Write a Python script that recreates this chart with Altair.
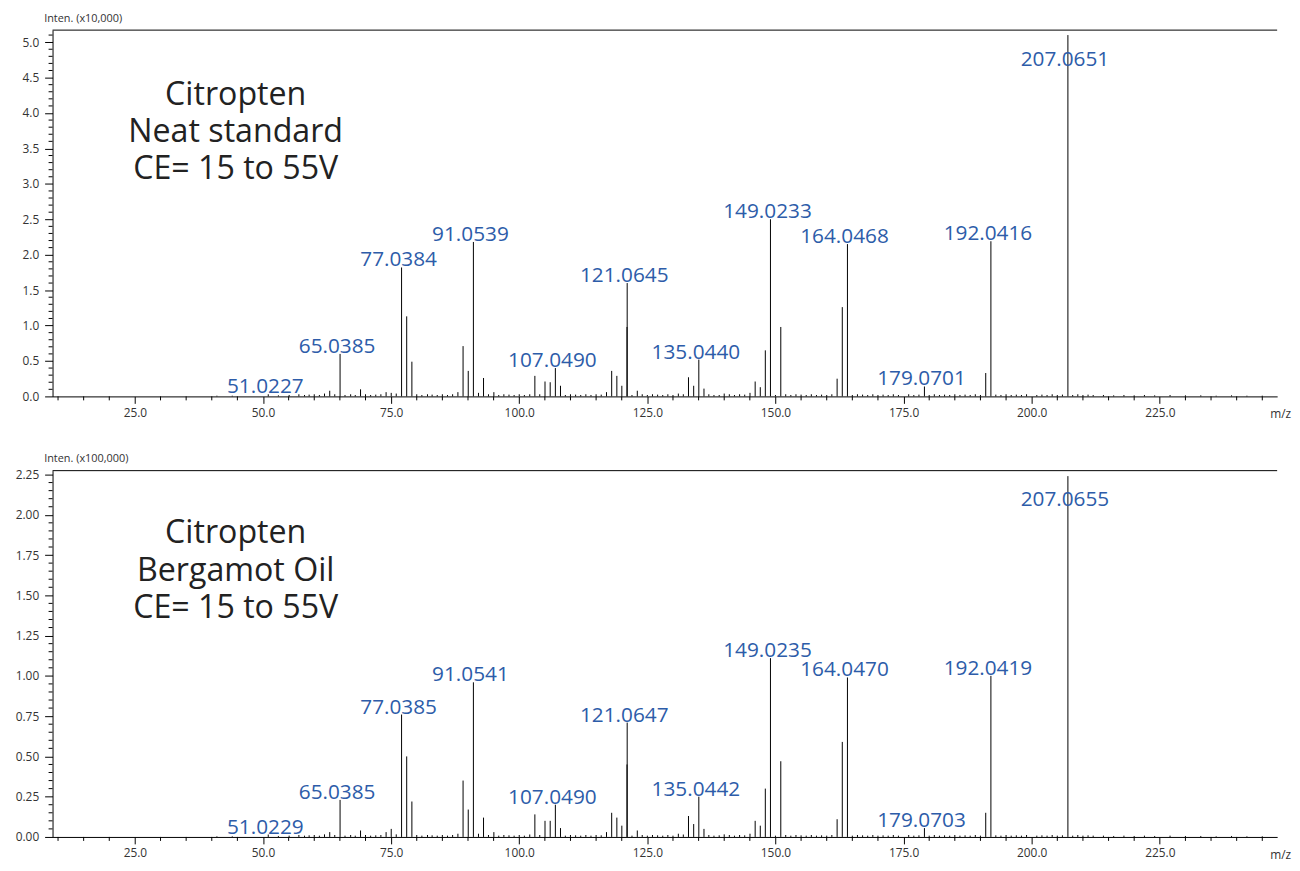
import altair as alt
import pandas as pd

# ---------------- data ----------------
X_DOMAIN = [8.93, 247.9]
X_MAJOR = [25, 50, 75, 100, 125, 150, 175, 200, 225]
X_MINOR = [10, 15, 20, 30, 35, 40, 45, 55, 60, 65, 70, 80, 85, 90, 95, 105, 110, 115, 120,
           130, 135, 140, 145, 155, 160, 165, 170, 180, 185, 190, 195, 205, 210, 215, 220,
           230, 235, 240, 245]

# Neat standard  (Inten. x10,000)
top_mz = [51.0227, 63.02, 65.0385, 69.03, 74.02, 75.02, 77.0384, 78.04, 79.05, 88.03, 89.04,
          90.05, 91.0539, 92.05, 93.03, 95.05, 102.05, 103.05, 105.03, 106.04, 107.0490,
          108.05, 117.03, 118.04, 119.05, 120.02, 121.0284, 121.0645, 123.04, 131.05, 132.02,
          133.03, 134.04, 135.0440, 136.05, 139.02, 145.03, 146.04, 147.04, 148.02, 149.0233,
          151.04, 162.03, 163.04, 164.0468, 179.0701, 191.03, 192.0416, 207.0651]
top_int = [0.03, 0.08, 0.60, 0.10, 0.06, 0.05, 1.82, 1.13, 0.49, 0.06, 0.71,
           0.36, 2.18, 0.05, 0.26, 0.06, 0.03, 0.29, 0.21, 0.20, 0.40,
           0.15, 0.06, 0.36, 0.29, 0.15, 0.98, 1.60, 0.08, 0.04, 0.03,
           0.27, 0.15, 0.52, 0.11, 0.02, 0.05, 0.21, 0.13, 0.65, 2.50,
           0.98, 0.25, 1.26, 2.15, 0.14, 0.33, 2.19, 5.10]
top_lab_mz = [51.0227, 65.0385, 77.0384, 91.0539, 107.0490, 121.0645, 135.0440, 149.0233,
              164.0468, 179.0701, 192.0416, 207.0651]
top_lab_txt = ["51.0227", "65.0385", "77.0384", "91.0539", "107.0490", "121.0645", "135.0440",
               "149.0233", "164.0468", "179.0701", "192.0416", "207.0651"]

# Bergamot oil  (Inten. x100,000)
bot_mz = [51.0229, 63.02, 65.0385, 69.03, 74.02, 75.02, 77.0385, 78.04, 79.05, 88.03, 89.04,
          90.05, 91.0541, 92.05, 93.03, 95.05, 102.05, 103.05, 105.03, 106.04, 107.0490,
          108.05, 117.03, 118.04, 119.05, 120.02, 121.0286, 121.0647, 123.04, 131.05, 132.02,
          133.03, 134.04, 135.0442, 136.05, 139.02, 145.03, 146.04, 147.04, 148.02, 149.0235,
          151.04, 162.03, 163.04, 164.0470, 179.0703, 191.03, 192.0419, 207.0655]
bot_int = [0.015, 0.03, 0.23, 0.04, 0.03, 0.05, 0.76, 0.50, 0.22, 0.02, 0.35,
           0.17, 0.96, 0.02, 0.12, 0.03, 0.015, 0.14, 0.10, 0.10, 0.20,
           0.055, 0.03, 0.15, 0.12, 0.07, 0.45, 0.71, 0.04, 0.02, 0.015,
           0.13, 0.08, 0.25, 0.05, 0.01, 0.02, 0.10, 0.07, 0.30, 1.11,
           0.47, 0.11, 0.59, 0.99, 0.055, 0.15, 1.00, 2.24]
bot_lab_mz = [51.0229, 65.0385, 77.0385, 91.0541, 107.0490, 121.0647, 135.0442, 149.0235,
              164.0470, 179.0703, 192.0419, 207.0655]
bot_lab_txt = ["51.0229", "65.0385", "77.0385", "91.0541", "107.0490", "121.0647", "135.0442",
               "149.0235", "164.0470", "179.0703", "192.0419", "207.0655"]

# low-level baseline noise peaks
noise_mz = [41.0, 44.0, 53.0, 55.1, 57.0, 58.1, 59.0, 60.0, 61.0, 62.0, 64.0, 66.0, 67.1, 68.0,
            70.0, 71.0, 72.0, 73.0, 76.0, 80.0, 81.0, 82.1, 83.0, 84.0, 85.0, 86.0, 87.0, 94.0,
            96.0, 97.0, 98.0, 99.0, 100.0, 101.0, 104.0, 109.0, 110.0, 111.0, 112.0, 113.0,
            114.0, 115.0, 116.0, 122.0, 124.0, 125.0, 126.0, 127.0, 128.0, 129.0, 130.0, 137.0,
            138.0, 140.0, 141.0, 142.0, 143.0, 144.0, 150.0, 152.0, 153.0, 154.0, 155.0, 156.0,
            157.0, 158.0, 159.0, 160.0, 161.0, 165.0, 166.0, 167.0, 168.0, 169.0, 170.0, 171.0,
            172.0, 173.0, 174.0, 176.0, 177.0, 178.0, 180.0, 181.0, 182.0, 183.0, 184.0, 185.0,
            186.0, 187.0, 188.0, 189.0, 190.0, 193.0, 194.0, 195.0, 196.0, 197.0, 198.0, 199.0,
            201.0, 202.0, 203.0, 204.0, 205.0, 206.0, 208.0, 209.0, 210.0, 211.0, 212.0, 214.0,
            216.0, 218.0, 220.0, 222.0, 224.0, 227.0, 230.0, 233.0, 236.0, 239.0, 242.0, 245.0]
noise_top = [0.01, 0.01, 0.015, 0.02, 0.03, 0.02, 0.025, 0.03, 0.02, 0.04, 0.03, 0.02, 0.03, 0.02,
             0.03, 0.02, 0.025, 0.03, 0.04, 0.03, 0.02, 0.03, 0.025, 0.02, 0.03, 0.02, 0.03, 0.03,
             0.02, 0.03, 0.025, 0.02, 0.03, 0.02, 0.03, 0.02, 0.03, 0.025, 0.02, 0.03, 0.02,
             0.03, 0.025, 0.02, 0.03, 0.02, 0.03, 0.025, 0.02, 0.03, 0.02, 0.03, 0.02, 0.04,
             0.03, 0.02, 0.03, 0.025, 0.02, 0.03, 0.02, 0.03, 0.025, 0.02, 0.03, 0.02, 0.025,
             0.02, 0.03, 0.02, 0.03, 0.025, 0.02, 0.03, 0.02, 0.025, 0.02, 0.03, 0.02, 0.03,
             0.02, 0.025, 0.02, 0.03, 0.02, 0.025, 0.02, 0.03, 0.02, 0.025, 0.02, 0.03, 0.02,
             0.025, 0.02, 0.03, 0.02, 0.025, 0.02, 0.03, 0.02, 0.025, 0.02, 0.03, 0.02, 0.025,
             0.02, 0.03, 0.02, 0.025, 0.02, 0.02, 0.015, 0.02, 0.015, 0.02, 0.015, 0.02, 0.015,
             0.015, 0.01, 0.015, 0.01, 0.01]
noise_bot = [0.004, 0.004, 0.006, 0.008, 0.012, 0.008, 0.01, 0.012, 0.008, 0.016, 0.012, 0.008,
             0.012, 0.008, 0.012, 0.008, 0.01, 0.012, 0.016, 0.012, 0.008, 0.012, 0.01, 0.008,
             0.012, 0.008, 0.012, 0.012, 0.008, 0.012, 0.01, 0.008, 0.012, 0.008, 0.012, 0.008,
             0.012, 0.01, 0.008, 0.012, 0.008, 0.012, 0.01, 0.008, 0.012, 0.008, 0.012, 0.01,
             0.008, 0.012, 0.008, 0.012, 0.008, 0.016, 0.012, 0.008, 0.012, 0.01, 0.008, 0.012,
             0.008, 0.012, 0.01, 0.008, 0.012, 0.008, 0.01, 0.008, 0.012, 0.008, 0.012, 0.01,
             0.008, 0.012, 0.008, 0.01, 0.008, 0.012, 0.008, 0.012, 0.008, 0.01, 0.008, 0.012,
             0.008, 0.01, 0.008, 0.012, 0.008, 0.01, 0.008, 0.012, 0.008, 0.01, 0.008, 0.012,
             0.008, 0.01, 0.008, 0.012, 0.008, 0.01, 0.008, 0.012, 0.008, 0.01, 0.008, 0.012,
             0.008, 0.01, 0.008, 0.008, 0.006, 0.008, 0.006, 0.008, 0.006, 0.008, 0.006, 0.006,
             0.004, 0.006, 0.004, 0.004]

TOP_Y_MAJOR = [0.0, 0.5, 1.0, 1.5, 2.0, 2.5, 3.0, 3.5, 4.0, 4.5, 5.0]
TOP_Y_MINOR = [0.1, 0.2, 0.3, 0.4, 0.6, 0.7, 0.8, 0.9, 1.1, 1.2, 1.3, 1.4, 1.6, 1.7, 1.8, 1.9,
               2.1, 2.2, 2.3, 2.4, 2.6, 2.7, 2.8, 2.9, 3.1, 3.2, 3.3, 3.4, 3.6, 3.7, 3.8, 3.9,
               4.1, 4.2, 4.3, 4.4, 4.6, 4.7, 4.8, 4.9, 5.1]
BOT_Y_MAJOR = [0.0, 0.25, 0.5, 0.75, 1.0, 1.25, 1.5, 1.75, 2.0, 2.25]
BOT_Y_MINOR = [0.05, 0.1, 0.15, 0.2, 0.3, 0.35, 0.4, 0.45, 0.55, 0.6, 0.65, 0.7, 0.8, 0.85,
               0.9, 0.95, 1.05, 1.1, 1.15, 1.2, 1.3, 1.35, 1.4, 1.45, 1.55, 1.6, 1.65, 1.7,
               1.8, 1.85, 1.9, 1.95, 2.05, 2.1, 2.15, 2.2]

# ---------------- styling ----------------
W = 1237
H = 370
FONT = "Open Sans"
BLUE = "#2d5ca9"
TXT = "#333333"


def panel(mz, inten, n_int, lab_mz, lab_txt, ymax, y_major, y_minor, yfmt, ytitle,
          note, note_y, note_lh):
    lookup = dict(zip(mz, inten))
    peaks = pd.DataFrame({"mz": mz + noise_mz, "inten": inten + n_int})
    labels = pd.DataFrame({
        "mz": lab_mz,
        "txt": lab_txt,
        "inten": [min(lookup[m], 0.9 * ymax) for m in lab_mz],
    })
    xs = alt.Scale(domain=X_DOMAIN, nice=False, zero=False)
    ys = alt.Scale(domain=[0, ymax], nice=False, zero=False)

    x_axis = alt.Axis(values=X_MAJOR, format=".1f", tickSize=7, labelPadding=4,
                      grid=False, title=None, labelFont=FONT, labelFontSize=12,
                      labelColor=TXT, domainColor="black", tickColor="black",
                      labelOverlap=False)
    y_axis = alt.Axis(values=y_major, format=yfmt, tickSize=8, labelPadding=6,
                      grid=False, title=ytitle, titleAngle=0, titleAlign="left",
                      titleBaseline="middle", titleX=-9, titleY=-12, titleFont=FONT,
                      titleFontSize=11, titleFontWeight="normal", titleColor=TXT,
                      labelFont=FONT, labelFontSize=12, labelColor=TXT,
                      domainColor="black", tickColor="black", labelOverlap=False,
                      minExtent=45, maxExtent=45)
    X = lambda: alt.X("mz:Q", scale=xs, axis=x_axis)
    Y = lambda: alt.Y("inten:Q", scale=ys, axis=y_axis)

    sticks = alt.Chart(peaks).mark_rule(color="black", strokeWidth=1).encode(
        x=X(), y=Y(), y2=alt.Y2(datum=0),
    )
    text = alt.Chart(labels).mark_text(
        font=FONT, fontSize=21, color=BLUE, align="center", baseline="alphabetic", dx=-3, dy=-1
    ).encode(x=X(), y=Y(), text="txt:N")
    yminor = alt.Chart(pd.DataFrame({"inten": y_minor})).mark_rule(
        color="black", strokeWidth=1
    ).encode(y=Y(), x=alt.value(-4), x2=alt.value(0))
    xminor = alt.Chart(pd.DataFrame({"mz": X_MINOR})).mark_rule(
        color="black", strokeWidth=1
    ).encode(x=X(), y=alt.value(H), y2=alt.value(H + 4))
    frame_top = alt.Chart(alt.Data(values=[{}])).mark_rule(color="black", strokeWidth=1).encode(
        y=alt.value(0),
    )
    mz_lbl = alt.Chart(alt.Data(values=[{}])).mark_text(
        font=FONT, fontSize=12, color=TXT, align="left", baseline="middle"
    ).encode(x=alt.value(W - 7), y=alt.value(H + 18), text=alt.value("m/z"))
    note_mark = alt.Chart(alt.Data(values=[{}])).mark_text(
        font=FONT, fontSize=32.5, color="#222222", align="center", baseline="middle",
        lineBreak="\n", lineHeight=note_lh
    ).encode(x=alt.value(185), y=alt.value(note_y), text=alt.value(note))

    return alt.layer(sticks, text, yminor, xminor, frame_top, mz_lbl, note_mark).properties(
        width=W, height=H
    )


top = panel(top_mz, top_int, noise_top, top_lab_mz, top_lab_txt, 5.17, TOP_Y_MAJOR,
            TOP_Y_MINOR, ".1f", "Inten. (x10,000)",
            "Citropten\nNeat standard\nCE= 15 to 55V", 66, 37)
bot = panel(bot_mz, bot_int, noise_bot, bot_lab_mz, bot_lab_txt, 2.274, BOT_Y_MAJOR,
            BOT_Y_MINOR, ".2f", "Inten. (x100,000)",
            "Citropten\nBergamot Oil\nCE= 15 to 55V", 63, 38)

chart = alt.vconcat(top, bot, spacing=33).configure(
    padding={"left": 0, "top": 0, "right": 0, "bottom": 0}
).configure_view(stroke=None)

chart.save("out.html", embed_options={"renderer": "svg", "actions": False})
